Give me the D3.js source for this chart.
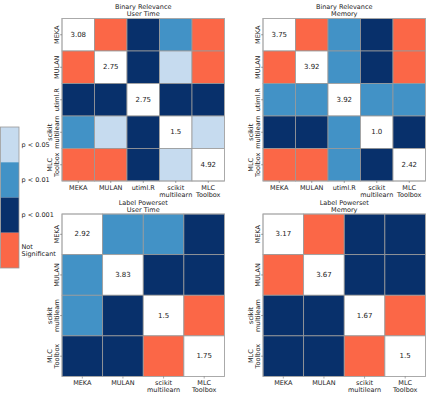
<!DOCTYPE html>
<html>
<head>
<meta charset="utf-8">
<script src="https://cdn.jsdelivr.net/npm/d3@7"></script>
<style>
  body { margin: 0; background: #fff; }
  text { font-family: "DejaVu Sans", sans-serif; fill: #222; }
</style>
</head>
<body>
<svg id="chart" width="429" height="397"></svg>
<script>
// Tools compared in each experiment
const brTools = ["MEKA", "MULAN", "utiml.R", "scikit\nmultilearn", "MLC\nToolbox"];
const lpTools = ["MEKA", "MULAN", "scikit\nmultilearn", "MLC\nToolbox"];

// Significance classes
const levels = ["p < 0.05", "p < 0.01", "p < 0.001", "Not\nSignificant"];

// Pairwise significance: 0 = p<0.05, 1 = p<0.01, 2 = p<0.001, 3 = not significant, -1 = diagonal
const brTimeSig = [
  [-1, 3, 2, 1, 3],
  [3, -1, 2, 0, 3],
  [2, 2, -1, 2, 2],
  [1, 0, 2, -1, 0],
  [3, 3, 2, 0, -1]
];
const brTimeRanks = [3.08, 2.75, 2.75, 1.5, 4.92];

const brMemSig = [
  [-1, 3, 1, 2, 3],
  [3, -1, 1, 2, 3],
  [1, 1, -1, 1, 1],
  [2, 2, 1, -1, 2],
  [3, 3, 1, 2, -1]
];
const brMemRanks = [3.75, 3.92, 3.92, 1.0, 2.42];

const lpTimeSig = [
  [-1, 1, 1, 2],
  [1, -1, 2, 2],
  [1, 2, -1, 3],
  [2, 2, 3, -1]
];
const lpTimeRanks = [2.92, 3.83, 1.5, 1.75];

const lpMemSig = [
  [-1, 3, 2, 2],
  [3, -1, 2, 2],
  [2, 2, -1, 3],
  [2, 2, 3, -1]
];
const lpMemRanks = [3.17, 3.67, 1.67, 1.5];

const colors = d3.scaleOrdinal()
  .domain([0, 1, 2, 3])
  .range(["#c6dbef", "#4292c6", "#08306b", "#fb6747"]);

const svg = d3.select("#chart");

const panels = [
  { title: ["Binary Relevance", "User Time"], tools: brTools, sig: brTimeSig, ranks: brTimeRanks, x: 62, y: 18.5 },
  { title: ["Binary Relevance", "Memory"], tools: brTools, sig: brMemSig, ranks: brMemRanks, x: 263, y: 18.5 },
  { title: ["Label Powerset", "User Time"], tools: lpTools, sig: lpTimeSig, ranks: lpTimeRanks, x: 62, y: 214 },
  { title: ["Label Powerset", "Memory"], tools: lpTools, sig: lpMemSig, ranks: lpMemRanks, x: 263, y: 214 }
];
const size = 162.5;
const fs = "6.5px";
const lh = 7;

// multi-line label helper
function multiline(sel, str, step) {
  const lines = str.split("\n");
  lines.forEach((l, i) => {
    sel.append("tspan")
      .attr("x", sel.attr("x"))
      .attr("dy", i === 0 ? 0 : step)
      .text(l);
  });
}

const fmt = d => Number.isInteger(d) ? d.toFixed(1) : String(d);

panels.forEach(p => {
  const g = svg.append("g").attr("transform", `translate(${p.x},${p.y})`);
  const n = p.tools.length;
  const band = d3.scaleBand().domain(d3.range(n)).range([0, size]);

  const cells = [];
  p.sig.forEach((row, i) => row.forEach((v, j) => cells.push({ i, j, v })));

  g.selectAll(".cell")
    .data(cells)
    .enter()
    .append("rect")
    .attr("x", d => band(d.j))
    .attr("y", d => band(d.i))
    .attr("width", band.bandwidth())
    .attr("height", band.bandwidth())
    .attr("fill", d => d.v < 0 ? "#fff" : colors(d.v))
    .attr("stroke", "#9a9a9a")
    .attr("stroke-width", 0.8);

  // outer frame
  g.append("rect")
    .attr("width", size).attr("height", size)
    .attr("fill", "none").attr("stroke", "#aaa").attr("stroke-width", 0.8);

  // average rank on the diagonal
  g.selectAll(".rank")
    .data(p.ranks)
    .enter()
    .append("text")
    .attr("x", (d, i) => band(i) + band.bandwidth() / 2)
    .attr("y", (d, i) => band(i) + band.bandwidth() / 2)
    .attr("text-anchor", "middle")
    .attr("dominant-baseline", "central")
    .style("font-size", "7px")
    .text(fmt);

  // title
  const t = g.append("text")
    .attr("x", size / 2).attr("y", -9.5)
    .attr("text-anchor", "middle")
    .style("font-size", fs);
  multiline(t, p.title.join("\n"), lh);

  // x labels
  p.tools.forEach((name, j) => {
    const cx = band(j) + band.bandwidth() / 2;
    g.append("line")
      .attr("x1", cx).attr("x2", cx)
      .attr("y1", size).attr("y2", size + 2)
      .attr("stroke", "#555").attr("stroke-width", 0.5);
    const tx = g.append("text")
      .attr("x", cx).attr("y", size + 8.5)
      .attr("text-anchor", "middle")
      .style("font-size", fs);
    multiline(tx, name, lh);
  });

  // y labels (rotated)
  p.tools.forEach((name, i) => {
    const cy = band(i) + band.bandwidth() / 2;
    g.append("line")
      .attr("x1", -2).attr("x2", 0)
      .attr("y1", cy).attr("y2", cy)
      .attr("stroke", "#555").attr("stroke-width", 0.5);
    const lines = name.split("\n");
    const ty = g.append("text")
      .attr("transform", `translate(${-3 - lh * (lines.length - 1)},${cy}) rotate(-90)`)
      .attr("x", 0).attr("y", 0)
      .attr("text-anchor", "middle")
      .style("font-size", fs);
    multiline(ty, name, lh);
  });
});

// legend colour bar
const legend = svg.append("g").attr("transform", "translate(0.5,127)");
const lscale = d3.scaleBand().domain(d3.range(levels.length)).range([0, 141]);
legend.selectAll("rect")
  .data(levels)
  .enter()
  .append("rect")
  .attr("x", 0)
  .attr("y", (d, i) => lscale(i))
  .attr("width", 18.5)
  .attr("height", lscale.bandwidth())
  .attr("fill", (d, i) => colors(i));
legend.append("rect")
  .attr("width", 18.5).attr("height", 141)
  .attr("fill", "none").attr("stroke", "#999").attr("stroke-width", 0.8);
legend.selectAll(".lab")
  .data(levels)
  .enter()
  .append("text")
  .attr("x", 21)
  .attr("y", (d, i) => lscale(i) + lscale.bandwidth() / 2 - (d.split("\n").length - 1) * 3.75)
  .attr("dominant-baseline", "central")
  .style("font-size", fs)
  .each(function (d) { multiline(d3.select(this), d, 7.5); });
</script>
</body>
</html>
